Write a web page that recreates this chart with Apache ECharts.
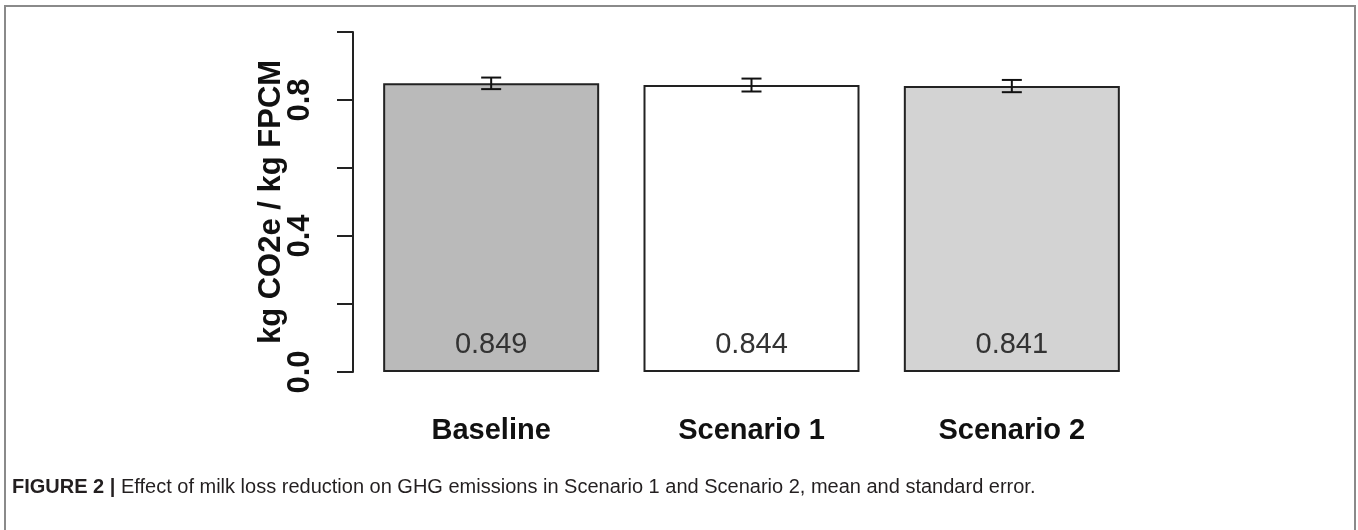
<!DOCTYPE html>
<html>
<head>
<meta charset="utf-8">
<style>
html,body{margin:0;padding:0;background:#fff;}
#main{width:1358px;height:530px;}
</style>
<script src="https://cdn.jsdelivr.net/npm/echarts@6/dist/echarts.min.js"></script>
</head>
<body>
<div id="main"></div>
<script>
var categories = ['Baseline', 'Scenario 1', 'Scenario 2'];
var means = [0.849, 0.844, 0.841];
var stdErrors = [0.017, 0.019, 0.018];
var barColors = ['#bababa', '#ffffff', '#d3d3d3'];
var valueLabels = ['0.849', '0.844', '0.841'];
var yTickLabels = ['0.0', '0.4', '0.8'];
var yTitle = 'kg CO2e / kg FPCM';
var captionBold = 'FIGURE 2 |';
var captionText = ' Effect of milk loss reduction on GHG emissions in Scenario 1 and Scenario 2, mean and standard error.';

var chart = echarts.init(document.getElementById('main'), null, {renderer: 'canvas'});

var barData = means.map(function (v, i) {
  return {value: v, itemStyle: {color: barColors[i]}, label: {formatter: valueLabels[i]}};
});
var errData = means.map(function (v, i) { return [i, v - stdErrors[i], v + stdErrors[i]]; });

var option = {
  backgroundColor: '#ffffff',
  animation: false,
  grid: {left: 361, right: 216, top: 32, bottom: 158},
  xAxis: {
    type: 'category',
    data: categories,
    axisLine: {show: false},
    axisTick: {show: false},
    axisLabel: {
      fontFamily: 'Liberation Sans, Arial, sans-serif',
      fontWeight: 'bold',
      fontSize: 29,
      color: '#111',
      margin: 44
    }
  },
  yAxis: {
    type: 'value',
    min: 0,
    max: 1,
    interval: 0.2,
    offset: 8,
    splitLine: {show: false},
    axisLine: {show: true, lineStyle: {color: '#222', width: 2}},
    axisTick: {show: true, length: 16, lineStyle: {color: '#222', width: 2}},
    axisLabel: {
      rotate: 90,
      margin: 37,
      fontFamily: 'Liberation Sans, Arial, sans-serif',
      fontWeight: 'bold',
      fontSize: 31,
      color: '#111',
      formatter: function (v) {
        var s = v.toFixed(1);
        return yTickLabels.indexOf(s) >= 0 ? s : '';
      }
    },
    name: yTitle,
    nameLocation: 'middle',
    nameRotate: 90,
    nameGap: 66,
    nameMoveOverlap: false,
    nameTextStyle: {
      fontFamily: 'Liberation Sans, Arial, sans-serif',
      fontWeight: 'bold',
      fontSize: 31,
      color: '#111'
    }
  },
  series: [
    {
      type: 'bar',
      data: barData,
      barWidth: 216,
      itemStyle: {borderColor: '#222', borderWidth: 2},
      label: {
        show: true,
        position: 'insideBottom',
        distance: 13,
        fontFamily: 'Liberation Sans, Arial, sans-serif',
        fontSize: 29,
        color: '#333'
      }
    },
    {
      type: 'custom',
      data: errData,
      z: 10,
      renderItem: function (params, api) {
        var x = api.value(0);
        var lo = api.coord([x, api.value(1)]);
        var hi = api.coord([x, api.value(2)]);
        var hw = 10;
        var st = {stroke: '#111', lineWidth: 2};
        return {
          type: 'group',
          children: [
            {type: 'line', shape: {x1: lo[0], y1: lo[1], x2: hi[0], y2: hi[1]}, style: st},
            {type: 'line', shape: {x1: lo[0] - hw, y1: lo[1], x2: lo[0] + hw, y2: lo[1]}, style: st},
            {type: 'line', shape: {x1: hi[0] - hw, y1: hi[1], x2: hi[0] + hw, y2: hi[1]}, style: st}
          ]
        };
      }
    }
  ],
  graphic: [
    {
      type: 'rect',
      shape: {x: 5, y: 6, width: 1350, height: 540},
      style: {fill: 'none', stroke: '#8a8a8a', lineWidth: 2},
      silent: true
    },
    {
      type: 'text',
      left: 12,
      top: 477,
      style: {
        text: '{b|' + captionBold + '}{r|' + captionText + '}',
        rich: {
          b: {fontFamily: 'Liberation Sans, Arial, sans-serif', fontWeight: 'bold', fontSize: 20, fill: '#231f20'},
          r: {fontFamily: 'Liberation Sans, Arial, sans-serif', fontSize: 20, fill: '#231f20'}
        }
      }
    }
  ]
};
chart.setOption(option);
</script>
</body>
</html>
